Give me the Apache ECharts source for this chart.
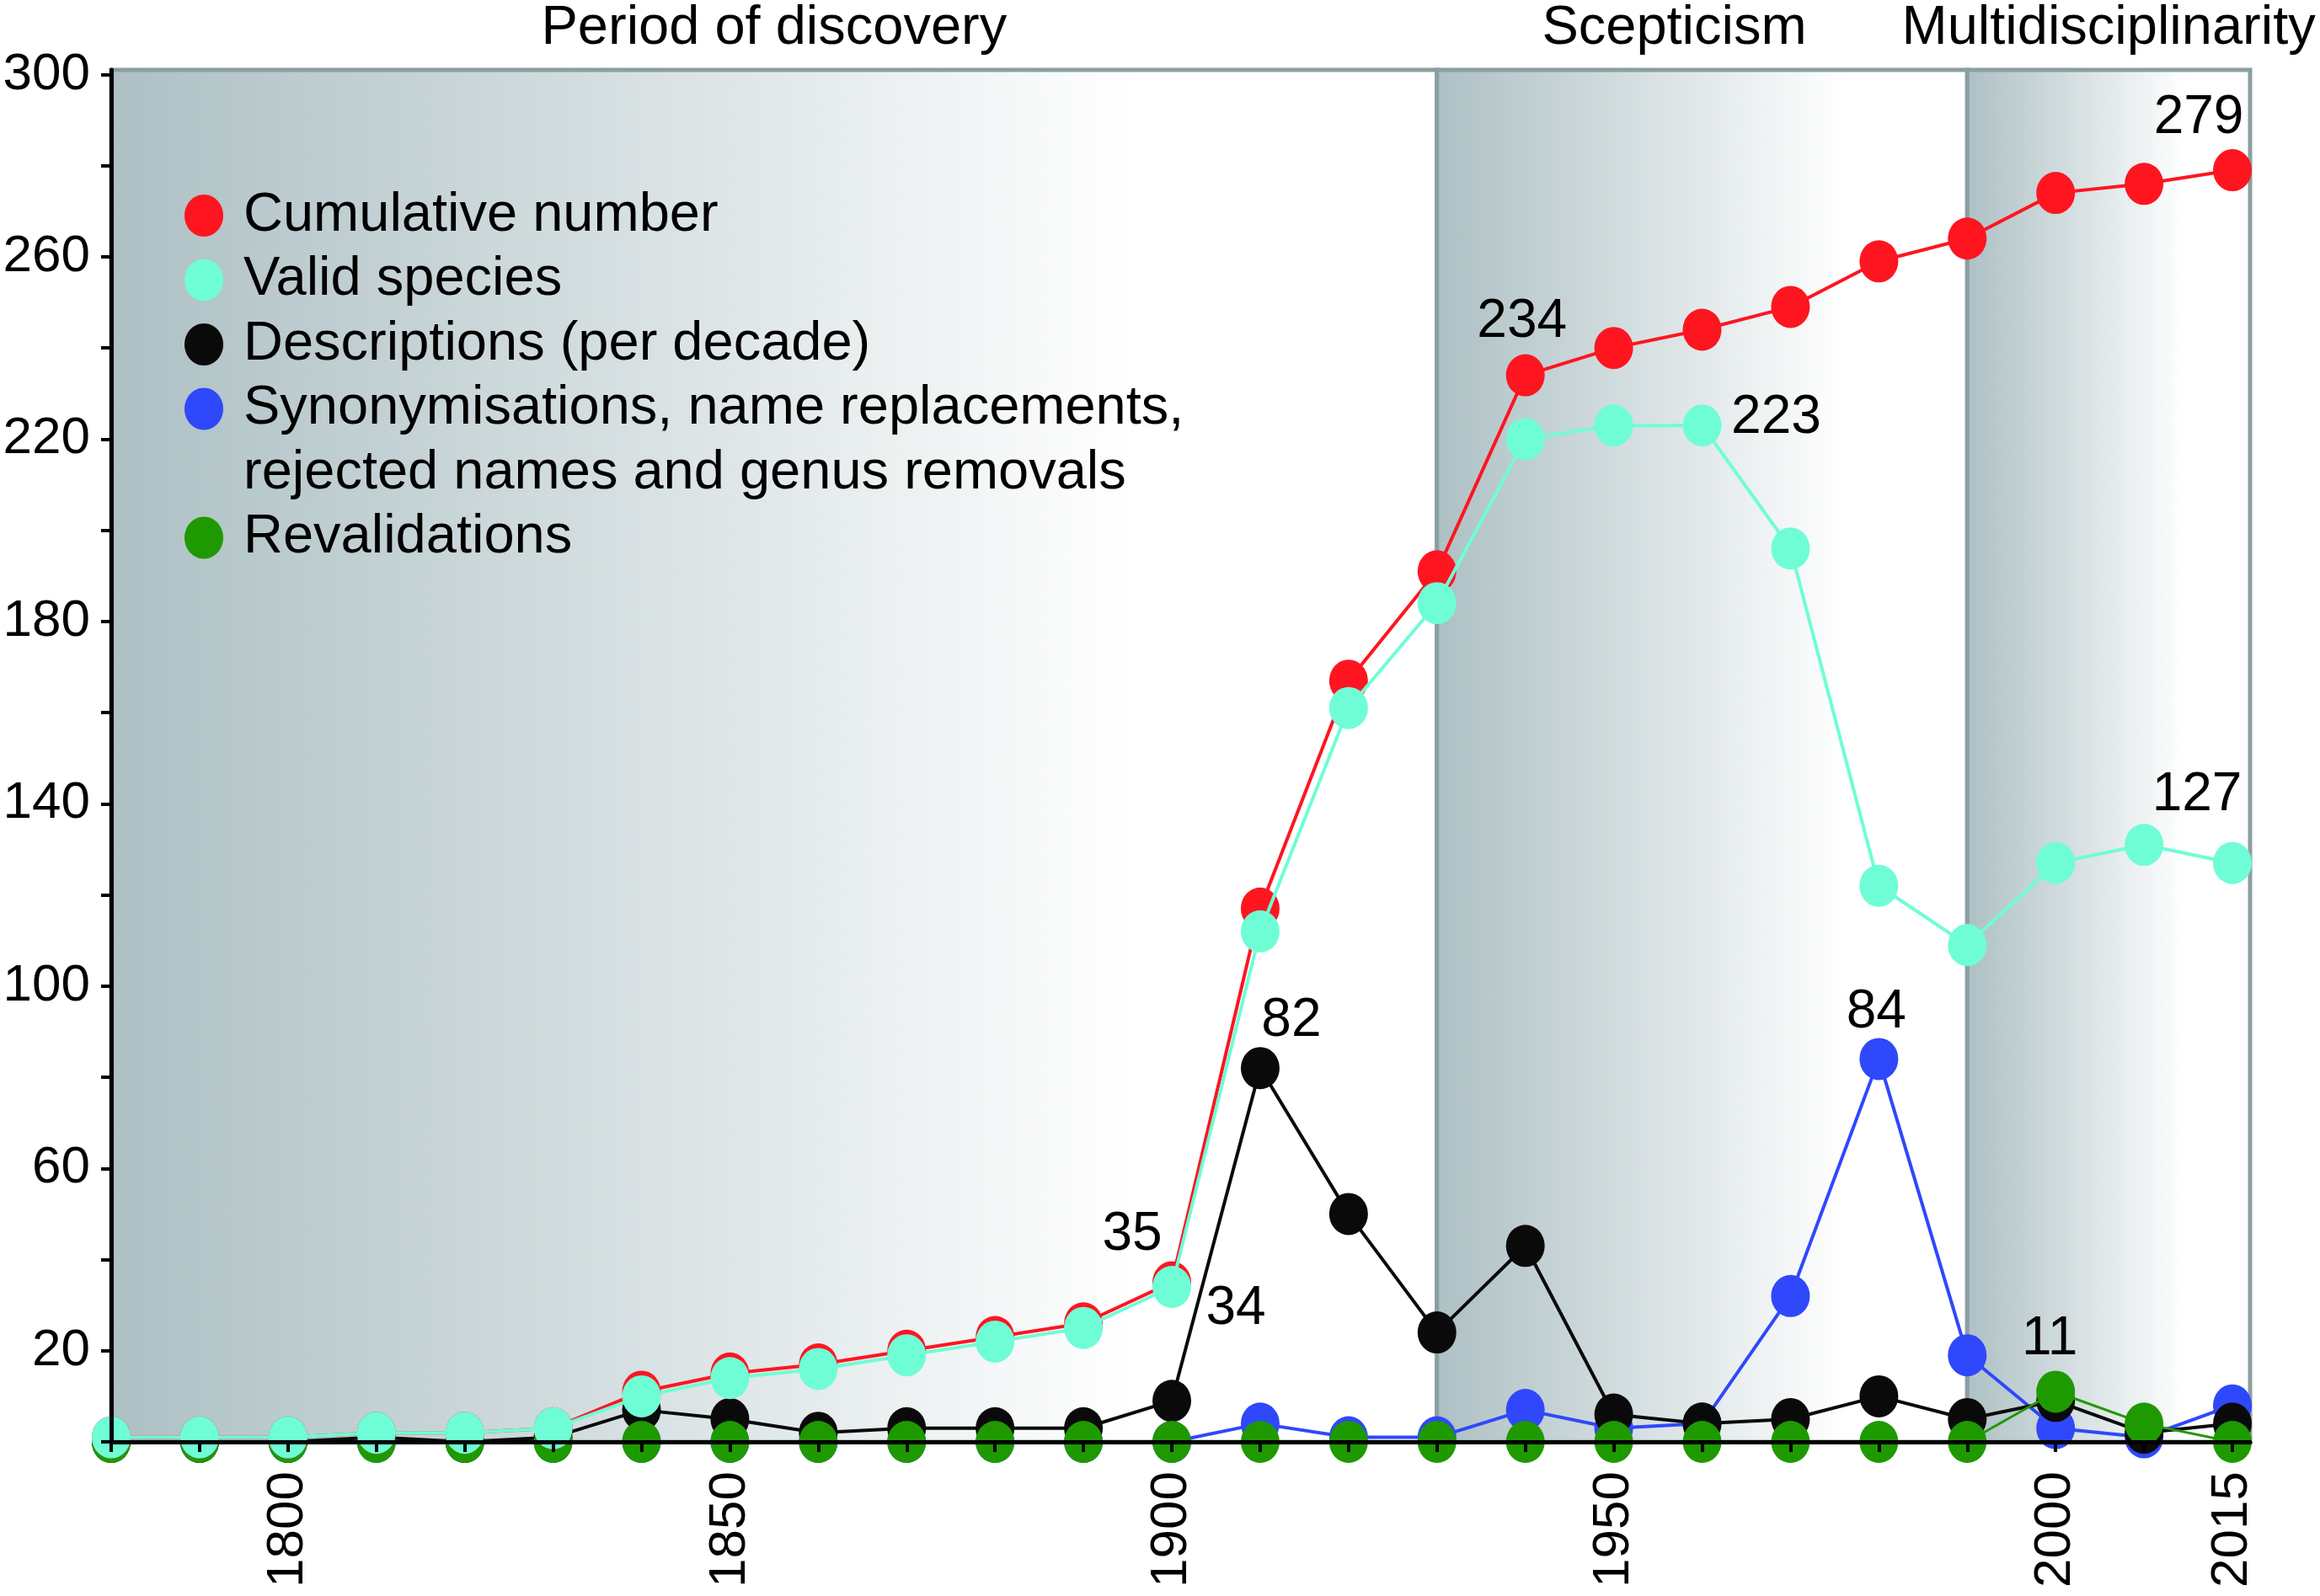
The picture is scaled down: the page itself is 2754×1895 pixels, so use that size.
<!DOCTYPE html>
<html><head><meta charset="utf-8">
<script src="https://cdn.jsdelivr.net/npm/echarts@6/dist/echarts.min.js"></script>
<style>html,body{margin:0;padding:0;background:#fff}#c{width:2754px;height:1895px}</style>
</head><body><div id="c"></div>
<script>
// ---------- data ----------
const years = ['1780','1790','1800','1810','1820','1830','1840','1850','1860','1870','1880','1890','1900','1910','1920','1930','1940','1950','1960','1970','1980','1990','2000','2010','2015'];
const xTickLabels = ['1800','1850','1900','1950','2000','2015'];
const yTickLabels = [20,60,100,140,180,220,260,300];
const cumulative   = [1,1,1,2,2,3,11,15,17,20,23,26,35,117,167,191,234,240,244,249,259,264,274,276,279];
const validSpecies = [1,1,1,2,2,3,10,14,16,19,22,25,34,112,161,184,220,223,223,196,122,109,127,131,127];
const descriptions = [0,0,0,1,0,1,7,5,2,3,3,3,9,82,50,24,43,6,4,5,10,5,9,2,4];
const synonymisations = [0,0,0,0,0,0,0,0,0,0,0,0,0,4,1,1,7,3,4,32,84,19,3,1,8];
const revalidations = [0,0,0,0,0,0,0,0,0,0,0,0,0,0,0,0,0,0,0,0,0,0,11,4,0];
const periodNames = ['Period of discovery','Scepticism','Multidisciplinarity'];
const periodStarts = ['1780','1930','1990'];
const periodEnds = ['1930','1990',null];

// ---------- layout / style ----------
const FONT = 'Liberation Sans, Arial, sans-serif';
const X_MAX = 24.2, Y_MAX = 301;
const SYM = [46,50];
// label offsets [dx, dy] relative to the marker centre, keyed by year
const labelPos = {
  cum:   {'1900':[-47,-56], '1940':[-4,-63], '2015':[-40,-62]},
  valid: {'1900':[76,26], '1960':[88,-9], '2015':[-42,-80]},
  desc:  {'1910':[37,-56]},
  syn:   {'1980':[-3,-55]},
  reval: {'2000':[-7,-62]}
};

function mkSeries(name, vals, color, lw, lp, z) {
  return {
    type:'line', name, symbol:'circle', symbolSize:SYM, showSymbol:true, z,
    lineStyle:{color, width:lw}, itemStyle:{color, opacity:1},
    emphasis:{disabled:true},
    data: vals.map((v,i)=>{
      const o = {value:[i,v]};
      const off = lp[years[i]];
      if (off) o.label = {show:true, position:'inside', offset:off, formatter:String(v),
        color:'#000', fontSize:64, fontFamily:FONT};
      return o;
    })
  };
}

const grad = () => new echarts.graphic.LinearGradient(0,0,1,0,[
  {offset:0,color:'#adc0c4'},{offset:0.77,color:'#ffffff'},{offset:1,color:'#ffffff'}]);

const areaData = periodNames.map((n,k)=>{
  const from = years.indexOf(periodStarts[k]);
  const to = periodEnds[k] ? years.indexOf(periodEnds[k]) : X_MAX;
  return [{name:n, xAxis:from, itemStyle:{color:grad(), borderColor:'#8c9ea3', borderWidth:5},
           label:{offset: k===1?[-33,0]:[0,0]}}, {xAxis:to}];
});

const legendNames = [['Cumulative number'],['Valid species'],['Descriptions (per decade)'],
  ['Synonymisations, name replacements,','rejected names and genus removals'],['Revalidations']];
const legendColors = ['#fe1520','#6ffdd6','#0a0a0a','#2f48fb','#1f9900'];
const legendGraphic = [];
let ly = 256;
legendNames.forEach((lines,k)=>{
  legendGraphic.push({type:'ellipse', z:100, shape:{cx:242, cy:ly, rx:SYM[0]/2, ry:SYM[1]/2}, style:{fill:legendColors[k]}});
  lines.forEach((t)=>{
    legendGraphic.push({type:'text', z:100, style:{text:t, x:289, y:ly, fontSize:65, fontFamily:FONT, fill:'#000', verticalAlign:'middle', align:'left'}});
    ly += 76.5;
  });
});

const chart = echarts.init(document.getElementById('c'), null, {renderer:'canvas'});
chart.setOption({
  animation:false,
  backgroundColor:'#ffffff',
  grid:{left:132, top:83, right:83, bottom:183, show:false, outerBoundsMode:'none'},
  xAxis:{type:'value', min:0, max:X_MAX, z:10,
    axisLine:{show:true, onZero:false, lineStyle:{color:'#000', width:5}},
    axisTick:{show:true, length:12, lineStyle:{color:'#000', width:4}, customValues: years.map((_,i)=>i)},
    axisLabel:{show:true, customValues: xTickLabels.map(t=>years.indexOf(t)), formatter:v=>years[Math.round(v)],
      rotate:90, margin:35, fontSize:62, color:'#000', fontFamily:FONT},
    splitLine:{show:false}},
  yAxis:{type:'value', min:0, max:Y_MAX, z:10,
    axisLine:{show:true, lineStyle:{color:'#000', width:5}},
    axisTick:{show:true, length:12, lineStyle:{color:'#000', width:4}, customValues:[0,20,40,60,80,100,120,140,160,180,200,220,240,260,280,300]},
    axisLabel:{show:true, customValues:yTickLabels, margin:25, fontSize:62, color:'#000', fontFamily:FONT},
    splitLine:{show:false}},
  graphic:{elements:legendGraphic},
  series:[
    {type:'line', name:'periods', data:[], z:1, silent:true,
      markArea:{silent:true, label:{show:true, position:'top', distance:14, fontSize:65, color:'#000', fontFamily:FONT},
        data:areaData}},
    mkSeries('Synonymisations, name replacements, rejected names and genus removals', synonymisations, '#2f48fb', 4, labelPos.syn, 3),
    mkSeries('Descriptions (per decade)', descriptions, '#0a0a0a', 4, labelPos.desc, 4),
    mkSeries('Revalidations', revalidations, '#1f9900', 3, labelPos.reval, 5),
    mkSeries('Cumulative number', cumulative, '#fe1520', 4, labelPos.cum, 6),
    mkSeries('Valid species', validSpecies, '#6ffdd6', 4, labelPos.valid, 7)
  ]
});
</script></body></html>
